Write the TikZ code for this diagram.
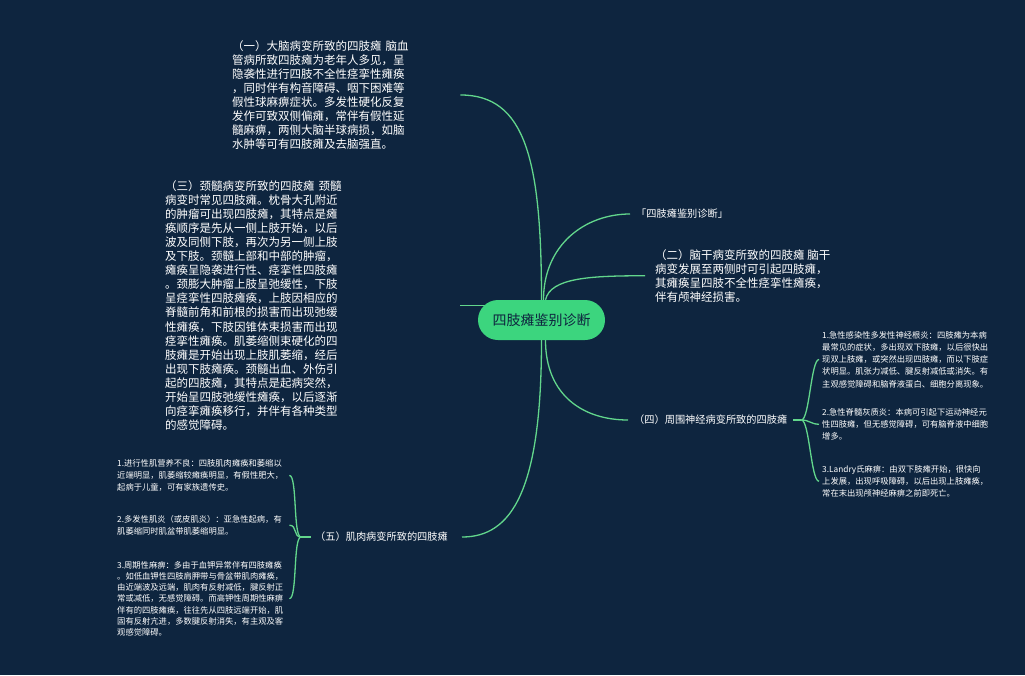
\documentclass[tikz,border=0pt]{standalone}
\usepackage{fontspec}
\setmainfont{Noto Sans CJK SC}
\definecolor{bgnavy}{RGB}{14,37,63}
\definecolor{linegreen}{RGB}{98,214,140}
\definecolor{rootgreen}{RGB}{60,213,126}
\pgfdeclarelayer{back}
\pgfdeclarelayer{links}
\pgfsetlayers{back,links,main}
\begin{document}
\begin{tikzpicture}[x=1pt,y=-1pt,
  txt/.style={font=\fontsize{11.5}{14.1}\selectfont, text=white, align=left, inner sep=0pt},
  label/.style={font=\fontsize{10.2}{12}\selectfont, text=white, inner sep=0pt},
  small/.style={font=\fontsize{8.3}{12.2}\selectfont, text=white, align=left, inner sep=0pt},
  link/.style={draw=linegreen, line width=1.3pt},
  root/.style={fill=rootgreen, rounded corners=20pt, minimum width=127pt, minimum height=40pt, inner sep=0pt, font=\fontsize{14}{16}\selectfont, text=bgnavy}]
\useasboundingbox (0,0) rectangle (1025,675);
\begin{pgfonlayer}{back}
\fill[bgnavy] (0,0) rectangle (1025,675);
\end{pgfonlayer}

\node[root] (center) at (541.5,320) {四肢瘫鉴别诊断};

\node[txt, anchor=north west, text width=228pt] (n1) at (232,40) {（一）大脑病变所致的四肢瘫 脑血\\
管病所致四肢瘫为老年人多见，呈\\
隐袭性进行四肢不全性痉挛性瘫痪\\
，同时伴有构音障碍、咽下困难等\\
假性球麻痹症状。多发性硬化反复\\
发作可致双侧偏瘫，常伴有假性延\\
髓麻痹，两侧大脑半球病损，如脑\\
水肿等可有四肢瘫及去脑强直。};

\node[txt, anchor=north west, text width=295pt] (n3) at (165,180) {（三）颈髓病变所致的四肢瘫 颈髓\\
病变时常见四肢瘫。枕骨大孔附近\\
的肿瘤可出现四肢瘫，其特点是瘫\\
痪顺序是先从一侧上肢开始，以后\\
波及同侧下肢，再次为另一侧上肢\\
及下肢。颈髓上部和中部的肿瘤，\\
瘫痪呈隐袭进行性、痉挛性四肢瘫\\
。颈膨大肿瘤上肢呈弛缓性，下肢\\
呈痉挛性四肢瘫痪，上肢因相应的\\
脊髓前角和前根的损害而出现弛缓\\
性瘫痪，下肢因锥体束损害而出现\\
痉挛性瘫痪。肌萎缩侧束硬化的四\\
肢瘫是开始出现上肢肌萎缩，经后\\
出现下肢瘫痪。颈髓出血、外伤引\\
起的四肢瘫，其特点是起病突然，\\
开始呈四肢弛缓性瘫痪，以后逐渐\\
向痉挛瘫痪移行，并伴有各种类型\\
的感觉障碍。};

\node[label, anchor=west] (nA) at (636,214) {「四肢瘫鉴别诊断」};

\node[txt, anchor=north west] (n2) at (655,249) {（二）脑干病变所致的四肢瘫 脑干\\
病变发展至两侧时可引起四肢瘫，\\
其瘫痪呈四肢不全性痉挛性瘫痪，\\
伴有颅神经损害。};

\node[label, anchor=west] (n4) at (634,420) {（四）周围神经病变所致的四肢瘫};

\node[label, anchor=west] (n5) at (315,537) {（五）肌肉病变所致的四肢瘫};

\node[small, anchor=north west] (k1) at (822,331) {1.急性感染性多发性神经根炎：四肢瘫为本病\\
最常见的症状，多出现双下肢瘫，以后很快出\\
现双上肢瘫，或突然出现四肢瘫，而以下肢症\\
状明显。肌张力减低、腱反射减低或消失。有\\
主观感觉障碍和脑脊液蛋白、细胞分离现象。};

\node[small, anchor=north west] (k2) at (822,408) {2.急性脊髓灰质炎：本病可引起下运动神经元\\
性四肢瘫，但无感觉障碍，可有脑脊液中细胞\\
增多。};

\node[small, anchor=north west] (k3) at (822,465) {3.Landry氏麻痹：由双下肢瘫开始，很快向\\
上发展，出现呼吸障碍，以后出现上肢瘫痪，\\
常在末出现颅神经麻痹之前即死亡。};

\node[small, anchor=north west, text width=170pt] (m1) at (117,459) {1.进行性肌营养不良：四肢肌肉瘫痪和萎缩以\\
近端明显，肌萎缩较瘫痪明显，有假性肥大，\\
起病于儿童，可有家族遗传史。};

\node[small, anchor=north west, text width=170pt] (m2) at (117,515) {2.多发性肌炎（或皮肌炎）：亚急性起病，有\\
肌萎缩同时肌盆带肌萎缩明显。};

\node[small, font=\fontsize{8.3}{11.2}\selectfont, anchor=north west, text width=170pt] (m3) at (117,561) {3.周期性麻痹：多由于血钾异常伴有四肢瘫痪\\
。如低血钾性四肢肩胛带与骨盆带肌肉瘫痪，\\
由近端波及远端，肌肉有反射减低，腱反射正\\
常或减低，无感觉障碍。而高钾性周期性麻痹\\
伴有的四肢瘫痪，往往先从四肢远端开始，肌\\
固有反射亢进，多数腱反射消失，有主观及客\\
观感觉障碍。};

\begin{pgfonlayer}{links}
\draw[link] (center.north) .. controls +(0,-140) and +(65,0) .. (n1.east);
\draw[link] (n3.east) -- (n3.east -| center.center);
\draw[link] ([xshift=2pt]center.north) .. controls +(0,-55) and +(-45,0) .. ([xshift=-6pt]nA.west);
\draw[link] ([xshift=4pt]center.north) .. controls +(5,-22) and +(-55,0) .. ([xshift=-10pt]n2.west);
\draw[link] ([xshift=4pt]center.south) .. controls +(0,55) and +(-45,0) .. ([xshift=-6pt]n4.west);
\draw[link] (center.south) .. controls +(0,150) and +(50,0) .. ([xshift=14pt]n5.east);
% brace of (四)
\coordinate (p4) at ([xshift=14pt]n4.east);
\draw[link] ([xshift=6pt]n4.east) -- (p4);
\foreach \k in {k1,k2,k3} {
  \draw[link] (p4) .. controls +(8,0) and +(-8,0) .. ([xshift=-3pt]\k.west);
}
% brace of (五)
\coordinate (p5) at ([xshift=-14pt]n5.west);
\draw[link] ([xshift=-4pt]n5.west) -- (p5);
\foreach \m in {m1,m2,m3} {
  \draw[link] (p5) .. controls +(-8,0) and +(8,0) .. ([xshift=2pt]\m.east);
}
\end{pgfonlayer}
\end{tikzpicture}
\end{document}
